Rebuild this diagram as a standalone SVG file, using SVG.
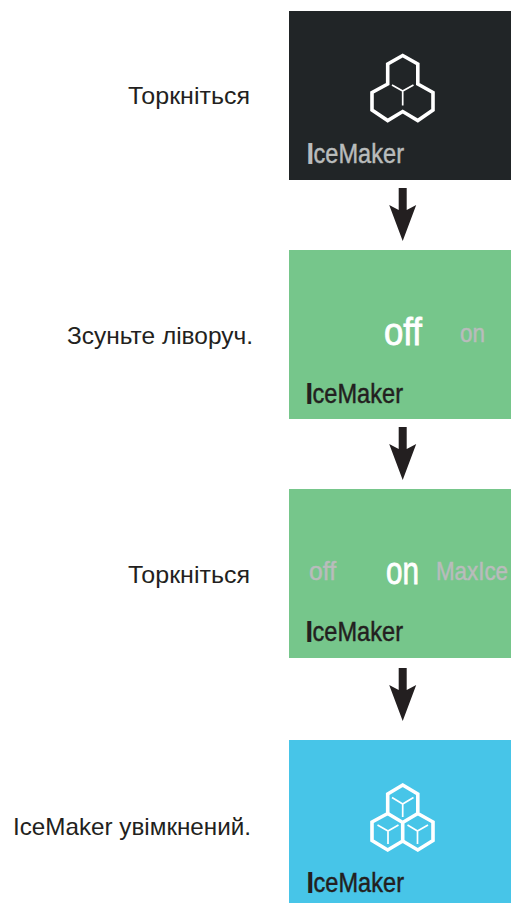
<svg xmlns="http://www.w3.org/2000/svg" width="511" height="903" viewBox="0 0 511 903">
<style>
text{font-family:"Liberation Sans",Arial,sans-serif}
.cap{font-size:24px;fill:#231f20}
.name{font-size:27px;fill:#231f20;stroke:#231f20;stroke-width:.45}
.lite{fill:#b9bcbc;stroke:#b9bcbc}
.b{stroke-width:2}
.big{font-size:38px;fill:#fff;stroke:#fff;stroke-width:.8}
.dim{font-size:26px;fill:#b9bcbc;stroke:#b9bcbc;stroke-width:.5}
.thick{fill:none;stroke:#fff;stroke-width:3.6;stroke-linejoin:miter}
.thin{fill:none;stroke:#fff;stroke-width:1.7}
.arrow{fill:#231f20}
</style>
<defs>
<path id="arrow" class="arrow" d="M-4 0H4V22L13.500 17L0 53L-13.500 17L-4 22Z"/>
</defs>
<g id="node-touch-start">
<rect x="289" y="11" width="222" height="169" fill="#212527"/>
<path class="thick" d="M402.700 55.500L417.800 64V84L433 92.500V110L417.800 120.500L402.700 111.500L387.700 120.500L372 110V92.500L387.700 84V64Z"/>
<path class="thin" d="M392 85L402.700 91L413.500 85M402.700 91V105.500"/>
<text class="name lite" x="307" y="163" textLength="97" lengthAdjust="spacingAndGlyphs"><tspan class="b">I</tspan>ceMaker</text>
<text class="cap" x="128" y="104" textLength="122" lengthAdjust="spacingAndGlyphs">Торкніться</text>
</g>
<g id="node-slide-left">
<rect x="289" y="250" width="222" height="169" fill="#76c68b"/>
<text class="big" x="384" y="345" textLength="38" lengthAdjust="spacingAndGlyphs">off</text>
<text class="dim" x="460" y="342" textLength="25" lengthAdjust="spacingAndGlyphs">on</text>
<text class="name" x="306" y="403" textLength="97" lengthAdjust="spacingAndGlyphs"><tspan class="b">I</tspan>ceMaker</text>
<text class="cap" x="67" y="344" textLength="186" lengthAdjust="spacingAndGlyphs">Зсуньте ліворуч.</text>
</g>
<g id="node-touch-on">
<rect x="289" y="489" width="222" height="169" fill="#76c68b"/>
<text class="dim" x="309" y="580" textLength="27" lengthAdjust="spacingAndGlyphs">off</text>
<text class="big" x="386" y="584" textLength="33" lengthAdjust="spacingAndGlyphs">on</text>
<text class="dim" transform="translate(436 580) scale(.86 1)">MaxIce</text>
<text class="name" x="306" y="641" textLength="97" lengthAdjust="spacingAndGlyphs"><tspan class="b">I</tspan>ceMaker</text>
<text class="cap" x="128" y="583" textLength="122" lengthAdjust="spacingAndGlyphs">Торкніться</text>
</g>
<g id="node-enabled">
<rect x="289" y="740" width="222" height="163" fill="#47c5e8"/>
<path class="thick" d="M402.700 785L417.800 794V813.500L433 822V840.500L417.800 850L402.700 841L387.700 850L372 840.500V822L387.700 813.500V794Z"/>
<path class="thick" d="M387.700 813.500L402.700 822.500L417.800 813.500M402.700 822.500V841"/>
<path class="thin" d="M392 797.500L402.700 804L413.500 797.500M402.700 804V817"/>
<path class="thin" d="M377.500 825L388 831L398.500 825M388 831V844"/>
<path class="thin" d="M407.500 825L417.500 831L428 825M417.500 831V844"/>
<text class="name" x="307" y="892" textLength="97" lengthAdjust="spacingAndGlyphs"><tspan class="b">I</tspan>ceMaker</text>
<text class="cap" x="13" y="835" textLength="238" lengthAdjust="spacingAndGlyphs">IceMaker увімкнений.</text>
</g>
<g id="connectors">
<use href="#arrow" x="402.700" y="188"/>
<use href="#arrow" x="402.700" y="427"/>
<use href="#arrow" x="402.700" y="668"/>
</g>
</svg>
